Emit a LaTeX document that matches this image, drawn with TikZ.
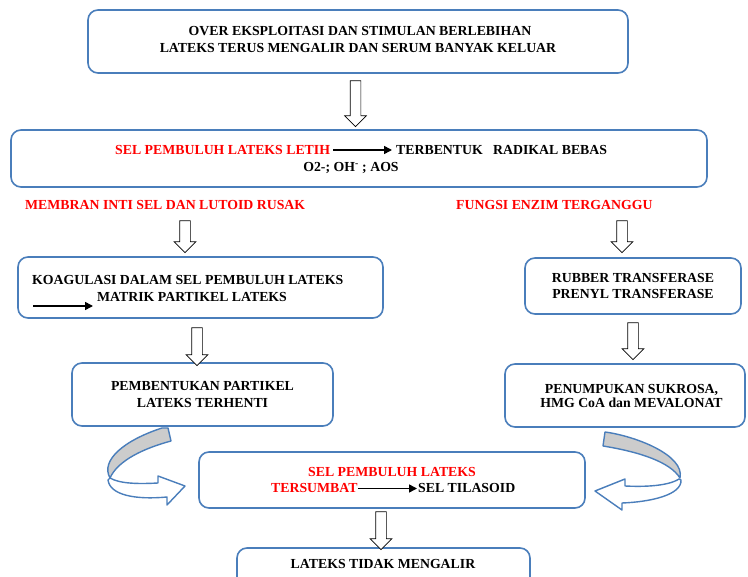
\documentclass[tikz,border=0pt]{standalone}
\usepackage{fontspec}
\setmainfont{Liberation Serif}
\usetikzlibrary{arrows.meta,shapes.arrows}
\definecolor{boxblue}{RGB}{74,126,187}
\definecolor{bandgray}{RGB}{204,204,204}
\begin{document}
\begin{tikzpicture}[x=1pt,y=-1pt,
  every node/.style={font=\fontsize{13.8}{16.5}\selectfont\bfseries},
  box/.style={draw=boxblue, line width=1.6pt, rounded corners=10pt, fill=white, inner sep=0pt, align=center},
  barrow/.style={single arrow, draw=black, fill=white, line width=0.7pt, shape border rotate=270, inner sep=5pt, single arrow head extend=5.5pt, single arrow tip angle=90},
  txt/.style={inner sep=0pt, anchor=base},
  txtw/.style={inner sep=0pt, anchor=base west},
  redtxt/.style={txtw, text=red},
  ptr/.style={-{Triangle[length=8pt,width=8pt]}, line width=1.6pt},
  curved/.style={draw=boxblue, line width=1.4pt, line join=round}
]
\clip (0,0) rectangle (748,577);
\fill[white] (0,0) rectangle (748,577);

% boxes
\node[box, minimum width=540pt, minimum height=63pt] (b1) at (358,41.5) {};
\node[txt] (t1a) at (360,35.5) {OVER EKSPLOITASI DAN STIMULAN BERLEBIHAN};
\node[txt] (t1b) at (358,52.5) {LATEKS TERUS MENGALIR DAN SERUM BANYAK KELUAR};

\node[box, minimum width=696pt, minimum height=57pt] (b2) at (359,158.5) {};
\node[redtxt] (t2a) at (115,154.5) {SEL PEMBULUH LATEKS LETIH};
\node[txtw] (t2b) at (396,154.5) {TERBENTUK\ \ \ RADIKAL BEBAS};
\draw[ptr, shorten <=3pt, shorten >=4pt] (t2a.east) -- (t2b.west);
\node[txt] (t2c) at (351,171.5) {O2-; OH\textsuperscript{-} ; AOS};

\node[redtxt] (l1) at (25,209.5) {MEMBRAN INTI SEL DAN LUTOID RUSAK};
\node[redtxt] (l2) at (456,209.5) {FUNGSI ENZIM TERGANGGU};

\node[box, minimum width=365pt, minimum height=61pt] (b3) at (200.5,287.5) {};
\node[txtw] (t3a) at (32,284.5) {KOAGULASI DALAM SEL PEMBULUH LATEKS};
\node[txtw] (t3b) at (97,301.5) {MATRIK PARTIKEL LATEKS};
\coordinate (p3a) at (33,306);
\coordinate (p3b) at (93,306);
\draw[ptr] (p3a) -- (p3b);

\node[box, minimum width=216pt, minimum height=56pt] (r1) at (633,286) {RUBBER TRANSFERASE\\PRENYL TRANSFERASE};

\node[box, minimum width=261pt, minimum height=63pt] (b4) at (202.5,394.5) {PEMBENTUKAN PARTIKEL\\LATEKS TERHENTI};

\node[box, minimum width=240pt, minimum height=63pt] (r2) at (625,395.5) {};
\node[txt] (tr2a) at (631.5,393.5) {PENUMPUKAN SUKROSA,};
\node[txt] (tr2b) at (631.5,408) {HMG CoA dan MEVALONAT};

\node[box, minimum width=386pt, minimum height=56pt] (b5) at (392,480) {};
\node[txt, text=red] (t5a) at (392,477) {SEL PEMBULUH LATEKS};
\node[redtxt] (t5b) at (271,493) {TERSUMBAT};
\node[txtw] (t5c) at (418,493) {SEL TILASOID};
\draw[ptr, shorten <=0pt, shorten >=1pt] (t5b.east) -- (t5c.west);

\node[box, minimum width=293pt, minimum height=48pt] (b6) at (383.5,572) {};
\node[txt] (t6) at (383,568.5) {LATEKS TIDAK MENGALIR};

% block arrows
\node[barrow, minimum height=46pt] (a1) at (355.5,101) {};
\node[barrow, minimum height=32pt] (a2) at (185,234) {};
\node[barrow, minimum height=32pt] (a3) at (622,234) {};
\node[barrow, minimum height=38pt] (a4) at (197,344) {};
\node[barrow, minimum height=37pt] (a5) at (633,338.5) {};
\node[barrow, minimum height=38pt] (a6) at (381,528) {};

% left curved arrow
\path[curved, fill=bandgray] (162,428) -- (168,428) -- (171,441)
  .. controls (145,448) and (118,460) .. (110,478)
  .. controls (100,460) and (125,440) .. (162,428) -- cycle;
\path[curved, fill=white] (110,478)
  .. controls (120,484) and (140,484) .. (158,483)
  -- (158,476) -- (185,486) -- (167,505) -- (167,497)
  .. controls (135,500) and (110,495) .. (108,480) -- cycle;

% right curved arrow
\path[curved, fill=bandgray] (605,432)
  .. controls (635,436) and (685,455) .. (680,478)
  .. controls (670,462) and (640,452) .. (603,446) -- cycle;
\path[curved, fill=white] (679,479)
  .. controls (668,486) and (645,487) .. (625,486)
  -- (625,479) -- (595,491) -- (622,510) -- (622,503)
  .. controls (650,502) and (682,495) .. (681,480) -- cycle;
\end{tikzpicture}
\end{document}
